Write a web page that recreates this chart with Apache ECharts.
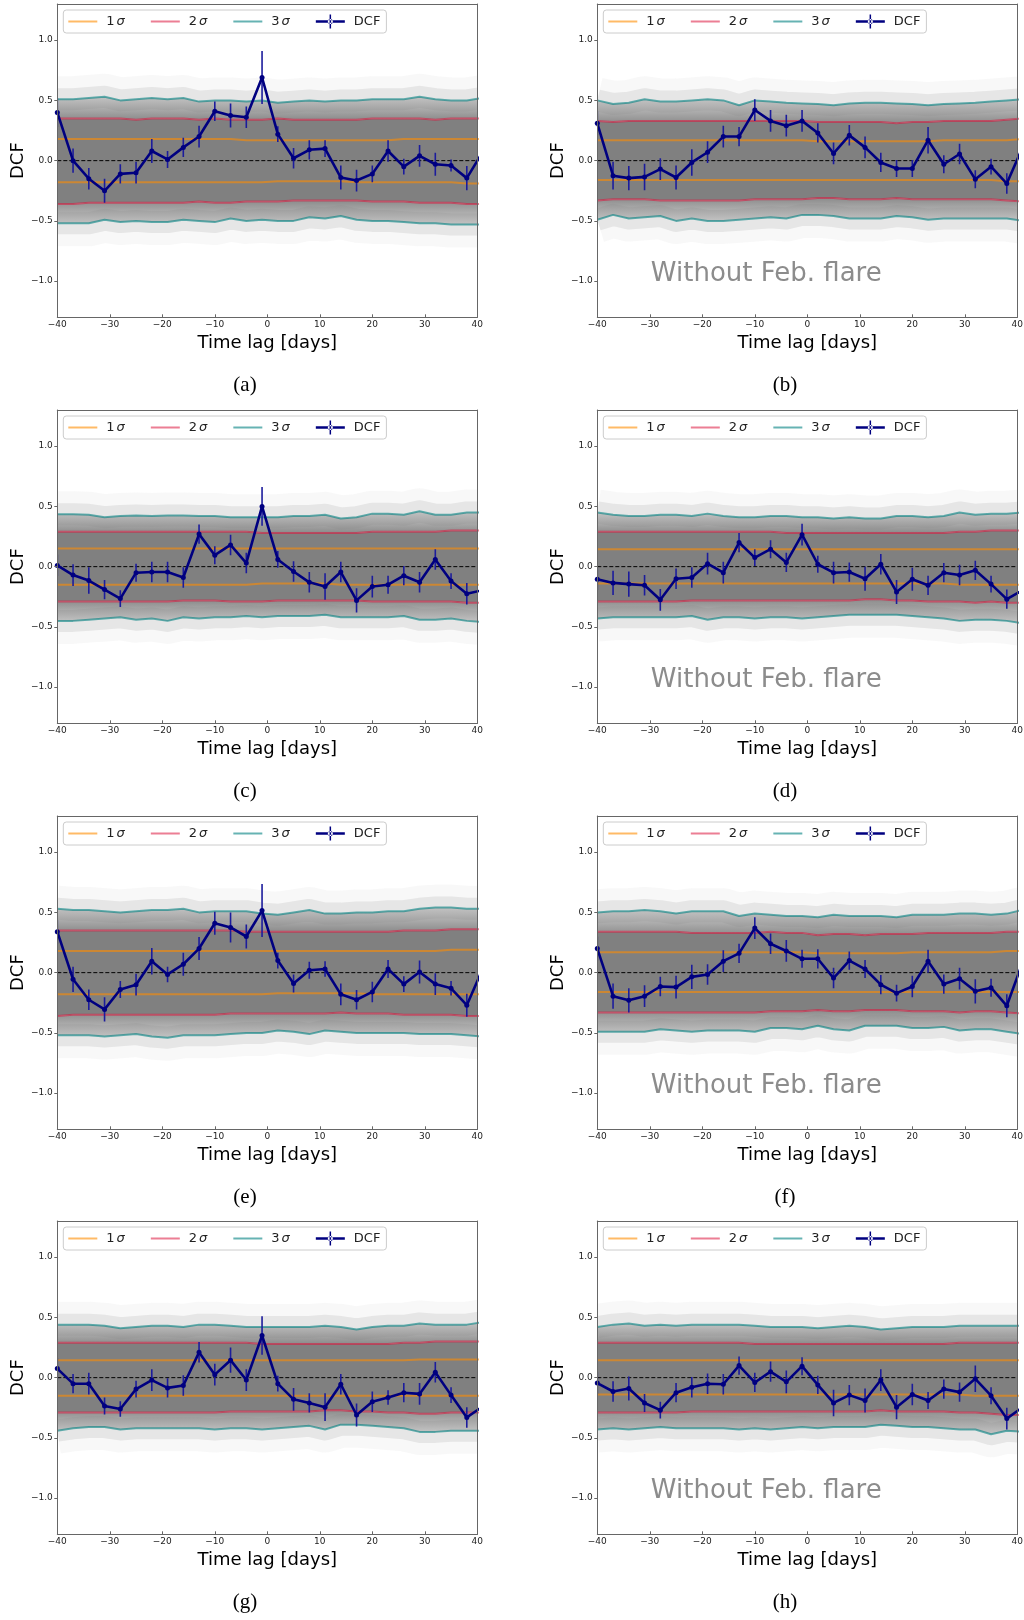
<!DOCTYPE html>
<html>
<head>
<meta charset="utf-8">
<title>DCF with simulated significance bands</title>
<script src="https://cdn.jsdelivr.net/npm/echarts@6/dist/echarts.min.js"></script>
<style>
  html, body { margin: 0; padding: 0; background: #ffffff; }
  #page { position: relative; width: 1024px; height: 1620px; overflow: hidden; }
  .panel { position: absolute; width: 484px; height: 403px; }
</style>
</head>
<body>
<div id="page"></div>
<script>
// Time lags (days) at which the DCF and the simulated percentiles are evaluated
const lags = [-40,-37,-34,-31,-28,-25,-22,-19,-16,-13,-10,-7,-4,-1,2,5,8,11,14,17,20,23,26,29,32,35,38,41];

// ---- (a) ----
const dcfA = [0.40,0.00,-0.15,-0.25,-0.11,-0.10,0.08,0.01,0.11,0.20,0.41,0.375,0.36,0.69,0.22,0.02,0.09,0.10,-0.14,-0.165,-0.11,0.08,-0.05,0.04,-0.03,-0.04,-0.145,0.07];
const errA = [0.12,0.10,0.09,0.10,0.08,0.09,0.10,0.07,0.08,0.09,0.08,0.10,0.09,0.22,0.065,0.085,0.08,0.07,0.10,0.09,0.07,0.09,0.065,0.09,0.095,0.05,0.10,0.09];
const up3A = [0.51,0.51,0.52,0.53,0.50,0.51,0.52,0.51,0.52,0.49,0.50,0.50,0.49,0.50,0.48,0.49,0.50,0.49,0.50,0.50,0.51,0.51,0.51,0.53,0.51,0.50,0.50,0.52];
const lo3A = [-0.52,-0.52,-0.52,-0.49,-0.51,-0.50,-0.51,-0.51,-0.49,-0.50,-0.51,-0.48,-0.50,-0.49,-0.50,-0.50,-0.47,-0.48,-0.46,-0.49,-0.50,-0.50,-0.51,-0.52,-0.52,-0.53,-0.53,-0.53];
const up2A = [0.35,0.35,0.35,0.35,0.35,0.34,0.35,0.35,0.35,0.34,0.35,0.34,0.34,0.34,0.35,0.34,0.34,0.34,0.34,0.34,0.35,0.35,0.35,0.35,0.34,0.35,0.35,0.35];
const lo2A = [-0.36,-0.36,-0.35,-0.35,-0.35,-0.35,-0.35,-0.35,-0.35,-0.34,-0.35,-0.35,-0.34,-0.34,-0.34,-0.33,-0.33,-0.33,-0.33,-0.33,-0.34,-0.34,-0.34,-0.35,-0.35,-0.35,-0.36,-0.36];
const up1A = [0.18,0.18,0.18,0.18,0.18,0.18,0.18,0.18,0.18,0.18,0.18,0.18,0.17,0.17,0.17,0.17,0.17,0.17,0.17,0.17,0.17,0.17,0.18,0.18,0.18,0.18,0.18,0.18];
const lo1A = [-0.18,-0.18,-0.18,-0.18,-0.18,-0.18,-0.18,-0.18,-0.18,-0.18,-0.18,-0.18,-0.18,-0.18,-0.17,-0.17,-0.17,-0.17,-0.17,-0.18,-0.18,-0.18,-0.18,-0.18,-0.18,-0.18,-0.19,-0.19];

// ---- (b) ----
const dcfB = [0.31,-0.125,-0.145,-0.135,-0.07,-0.14,-0.015,0.07,0.20,0.20,0.42,0.33,0.29,0.33,0.23,0.06,0.21,0.11,-0.015,-0.065,-0.065,0.17,-0.03,0.055,-0.155,-0.05,-0.19,0.11];
const errB = [0.10,0.115,0.10,0.11,0.09,0.10,0.11,0.09,0.09,0.08,0.09,0.09,0.09,0.09,0.08,0.09,0.085,0.09,0.08,0.07,0.07,0.11,0.075,0.085,0.075,0.065,0.085,0.09];
const up3B = [0.50,0.47,0.48,0.51,0.49,0.49,0.50,0.51,0.50,0.46,0.50,0.49,0.48,0.475,0.47,0.46,0.475,0.48,0.48,0.475,0.47,0.46,0.47,0.475,0.48,0.49,0.50,0.51];
const lo3B = [-0.49,-0.45,-0.48,-0.47,-0.46,-0.50,-0.48,-0.50,-0.50,-0.49,-0.48,-0.47,-0.48,-0.45,-0.45,-0.46,-0.48,-0.48,-0.48,-0.46,-0.47,-0.49,-0.48,-0.48,-0.48,-0.48,-0.48,-0.50];
const up2B = [0.33,0.32,0.33,0.33,0.33,0.33,0.33,0.33,0.33,0.33,0.33,0.33,0.33,0.33,0.32,0.32,0.32,0.32,0.32,0.31,0.32,0.32,0.33,0.33,0.33,0.33,0.34,0.35];
const lo2B = [-0.33,-0.32,-0.32,-0.32,-0.33,-0.33,-0.33,-0.33,-0.33,-0.33,-0.32,-0.32,-0.32,-0.32,-0.31,-0.31,-0.32,-0.32,-0.32,-0.31,-0.32,-0.32,-0.32,-0.32,-0.32,-0.32,-0.33,-0.34];
const up1B = [0.17,0.17,0.17,0.17,0.17,0.17,0.17,0.17,0.17,0.17,0.17,0.17,0.17,0.17,0.16,0.16,0.16,0.16,0.16,0.16,0.16,0.16,0.17,0.17,0.17,0.17,0.17,0.18];
const lo1B = [-0.16,-0.16,-0.16,-0.16,-0.16,-0.16,-0.16,-0.16,-0.16,-0.16,-0.16,-0.16,-0.16,-0.16,-0.16,-0.16,-0.16,-0.16,-0.16,-0.16,-0.16,-0.16,-0.16,-0.16,-0.16,-0.16,-0.17,-0.17];

// ---- (c) ----
const dcfC = [0.01,-0.07,-0.115,-0.19,-0.265,-0.05,-0.045,-0.045,-0.09,0.27,0.095,0.18,0.03,0.50,0.06,-0.04,-0.13,-0.165,-0.045,-0.28,-0.165,-0.15,-0.075,-0.13,0.06,-0.12,-0.225,-0.195];
const errC = [0.09,0.09,0.11,0.08,0.07,0.075,0.085,0.085,0.085,0.08,0.075,0.085,0.085,0.16,0.07,0.085,0.085,0.11,0.085,0.10,0.09,0.075,0.08,0.085,0.085,0.065,0.09,0.09];
const up3C = [0.435,0.435,0.43,0.41,0.42,0.425,0.42,0.425,0.425,0.42,0.42,0.41,0.41,0.41,0.41,0.42,0.42,0.43,0.40,0.41,0.44,0.44,0.43,0.46,0.43,0.43,0.45,0.45];
const lo3C = [-0.45,-0.45,-0.44,-0.43,-0.42,-0.44,-0.43,-0.45,-0.42,-0.43,-0.42,-0.42,-0.41,-0.42,-0.41,-0.41,-0.41,-0.40,-0.42,-0.42,-0.42,-0.42,-0.41,-0.44,-0.44,-0.43,-0.45,-0.46];
const up2C = [0.29,0.29,0.29,0.29,0.29,0.29,0.29,0.29,0.29,0.29,0.29,0.29,0.29,0.28,0.28,0.28,0.28,0.28,0.28,0.28,0.29,0.29,0.29,0.29,0.29,0.30,0.30,0.30];
const lo2C = [-0.29,-0.29,-0.29,-0.29,-0.29,-0.29,-0.29,-0.29,-0.28,-0.28,-0.28,-0.29,-0.29,-0.29,-0.28,-0.28,-0.28,-0.28,-0.28,-0.28,-0.29,-0.29,-0.29,-0.29,-0.29,-0.29,-0.30,-0.30];
const up1C = [0.15,0.15,0.15,0.15,0.15,0.15,0.15,0.15,0.15,0.15,0.15,0.15,0.15,0.15,0.15,0.15,0.15,0.15,0.15,0.15,0.15,0.15,0.15,0.15,0.15,0.15,0.15,0.15];
const lo1C = [-0.15,-0.15,-0.15,-0.15,-0.15,-0.15,-0.15,-0.15,-0.15,-0.15,-0.15,-0.15,-0.15,-0.14,-0.14,-0.14,-0.14,-0.14,-0.15,-0.15,-0.15,-0.15,-0.15,-0.15,-0.15,-0.15,-0.15,-0.15];

// ---- (d) ----
const dcfD = [-0.105,-0.135,-0.145,-0.155,-0.275,-0.10,-0.09,0.025,-0.05,0.20,0.075,0.145,0.035,0.265,0.02,-0.05,-0.045,-0.10,0.02,-0.21,-0.105,-0.155,-0.05,-0.07,-0.03,-0.145,-0.27,-0.195];
const errD = [0.09,0.10,0.105,0.085,0.09,0.085,0.085,0.09,0.09,0.08,0.07,0.075,0.08,0.09,0.07,0.09,0.08,0.10,0.085,0.10,0.095,0.08,0.08,0.085,0.08,0.07,0.08,0.09];
const up3D = [0.45,0.43,0.42,0.42,0.43,0.43,0.42,0.44,0.42,0.41,0.41,0.42,0.42,0.41,0.41,0.40,0.41,0.40,0.40,0.42,0.42,0.41,0.42,0.45,0.43,0.44,0.44,0.45];
const lo3D = [-0.43,-0.42,-0.42,-0.42,-0.42,-0.42,-0.41,-0.44,-0.42,-0.42,-0.43,-0.42,-0.42,-0.43,-0.42,-0.41,-0.40,-0.40,-0.40,-0.40,-0.41,-0.42,-0.43,-0.45,-0.44,-0.44,-0.45,-0.47];
const up2D = [0.29,0.29,0.29,0.29,0.29,0.29,0.29,0.29,0.29,0.29,0.29,0.29,0.28,0.28,0.28,0.28,0.28,0.28,0.28,0.28,0.28,0.28,0.28,0.29,0.29,0.30,0.30,0.30];
const lo2D = [-0.29,-0.29,-0.29,-0.29,-0.29,-0.29,-0.28,-0.28,-0.28,-0.28,-0.28,-0.28,-0.28,-0.28,-0.28,-0.28,-0.28,-0.27,-0.27,-0.28,-0.28,-0.29,-0.29,-0.29,-0.30,-0.29,-0.30,-0.30];
const up1D = [0.145,0.145,0.145,0.145,0.145,0.145,0.145,0.145,0.145,0.145,0.145,0.145,0.145,0.145,0.145,0.145,0.145,0.145,0.145,0.145,0.145,0.145,0.145,0.145,0.145,0.145,0.145,0.145];
const lo1D = [-0.14,-0.14,-0.14,-0.14,-0.14,-0.14,-0.14,-0.14,-0.14,-0.14,-0.14,-0.14,-0.14,-0.14,-0.14,-0.14,-0.14,-0.14,-0.14,-0.14,-0.14,-0.14,-0.14,-0.15,-0.15,-0.15,-0.15,-0.15];

// ---- (e) ----
const dcfE = [0.34,-0.055,-0.225,-0.305,-0.14,-0.10,0.095,-0.015,0.07,0.20,0.41,0.375,0.30,0.515,0.10,-0.09,0.02,0.03,-0.18,-0.225,-0.16,0.03,-0.095,0.005,-0.095,-0.13,-0.27,0.03];
const errE = [0.10,0.105,0.085,0.10,0.07,0.09,0.11,0.065,0.095,0.095,0.095,0.125,0.10,0.22,0.065,0.075,0.07,0.065,0.09,0.08,0.085,0.075,0.065,0.095,0.09,0.06,0.095,0.09];
const up3E = [0.53,0.52,0.52,0.51,0.50,0.51,0.52,0.52,0.53,0.50,0.51,0.51,0.51,0.49,0.48,0.50,0.52,0.49,0.49,0.50,0.50,0.51,0.51,0.53,0.54,0.54,0.53,0.53];
const lo3E = [-0.52,-0.52,-0.52,-0.53,-0.52,-0.51,-0.53,-0.54,-0.52,-0.52,-0.52,-0.51,-0.50,-0.50,-0.48,-0.49,-0.51,-0.48,-0.49,-0.50,-0.50,-0.50,-0.50,-0.51,-0.51,-0.51,-0.52,-0.53];
const up2E = [0.35,0.35,0.35,0.35,0.35,0.35,0.35,0.35,0.35,0.35,0.35,0.35,0.34,0.34,0.34,0.34,0.34,0.34,0.34,0.34,0.34,0.34,0.35,0.35,0.35,0.36,0.36,0.36];
const lo2E = [-0.36,-0.35,-0.35,-0.35,-0.35,-0.35,-0.35,-0.35,-0.35,-0.35,-0.35,-0.34,-0.34,-0.34,-0.34,-0.34,-0.34,-0.34,-0.33,-0.34,-0.34,-0.34,-0.35,-0.35,-0.35,-0.35,-0.36,-0.36];
const up1E = [0.18,0.18,0.18,0.18,0.18,0.18,0.18,0.18,0.18,0.18,0.18,0.18,0.18,0.18,0.18,0.18,0.18,0.18,0.18,0.18,0.18,0.18,0.18,0.18,0.18,0.19,0.19,0.19];
const lo1E = [-0.18,-0.18,-0.18,-0.18,-0.18,-0.18,-0.18,-0.18,-0.18,-0.18,-0.18,-0.18,-0.18,-0.18,-0.17,-0.17,-0.17,-0.17,-0.17,-0.17,-0.18,-0.18,-0.18,-0.18,-0.18,-0.18,-0.18,-0.18];

// ---- (f) ----
const dcfF = [0.20,-0.195,-0.23,-0.195,-0.115,-0.12,-0.035,-0.015,0.095,0.16,0.37,0.24,0.18,0.115,0.115,-0.045,0.10,0.03,-0.10,-0.17,-0.115,0.095,-0.095,-0.05,-0.155,-0.125,-0.275,0.085];
const errF = [0.10,0.105,0.10,0.09,0.08,0.095,0.10,0.085,0.09,0.08,0.09,0.085,0.09,0.075,0.08,0.085,0.075,0.075,0.08,0.07,0.09,0.095,0.08,0.09,0.10,0.075,0.095,0.09];
const up3F = [0.50,0.51,0.51,0.52,0.51,0.49,0.51,0.51,0.51,0.47,0.49,0.48,0.47,0.47,0.46,0.48,0.47,0.47,0.47,0.46,0.48,0.48,0.48,0.49,0.49,0.48,0.49,0.52];
const lo3F = [-0.49,-0.49,-0.49,-0.49,-0.47,-0.48,-0.49,-0.48,-0.48,-0.48,-0.49,-0.46,-0.46,-0.47,-0.44,-0.47,-0.48,-0.44,-0.44,-0.44,-0.46,-0.46,-0.45,-0.48,-0.47,-0.47,-0.49,-0.51];
const up2F = [0.34,0.34,0.34,0.34,0.34,0.34,0.33,0.33,0.33,0.33,0.33,0.34,0.33,0.33,0.31,0.32,0.32,0.31,0.32,0.32,0.32,0.33,0.33,0.33,0.33,0.33,0.34,0.34];
const lo2F = [-0.33,-0.33,-0.33,-0.33,-0.33,-0.33,-0.33,-0.33,-0.33,-0.33,-0.33,-0.32,-0.32,-0.32,-0.31,-0.32,-0.32,-0.31,-0.31,-0.31,-0.32,-0.32,-0.32,-0.33,-0.32,-0.32,-0.33,-0.34];
const up1F = [0.17,0.17,0.17,0.17,0.17,0.17,0.17,0.17,0.17,0.17,0.17,0.17,0.17,0.17,0.16,0.16,0.16,0.16,0.16,0.16,0.17,0.17,0.17,0.17,0.17,0.17,0.18,0.18];
const lo1F = [-0.16,-0.16,-0.16,-0.16,-0.16,-0.16,-0.16,-0.16,-0.16,-0.16,-0.16,-0.16,-0.16,-0.16,-0.16,-0.16,-0.16,-0.16,-0.16,-0.16,-0.16,-0.16,-0.16,-0.16,-0.16,-0.16,-0.16,-0.16];

// ---- (g) ----
const dcfG = [0.075,-0.05,-0.05,-0.235,-0.26,-0.095,-0.02,-0.085,-0.065,0.21,0.025,0.145,-0.02,0.35,-0.05,-0.18,-0.21,-0.245,-0.055,-0.31,-0.20,-0.165,-0.125,-0.135,0.045,-0.145,-0.33,-0.24];
const errG = [0.09,0.08,0.09,0.07,0.065,0.07,0.09,0.08,0.085,0.085,0.09,0.105,0.09,0.16,0.065,0.095,0.08,0.115,0.085,0.095,0.085,0.06,0.08,0.09,0.085,0.065,0.085,0.09];
const up3G = [0.44,0.44,0.44,0.43,0.41,0.42,0.43,0.43,0.42,0.44,0.44,0.43,0.42,0.42,0.42,0.42,0.42,0.43,0.42,0.40,0.42,0.43,0.43,0.45,0.44,0.44,0.44,0.46];
const lo3G = [-0.44,-0.42,-0.41,-0.41,-0.43,-0.42,-0.42,-0.42,-0.42,-0.42,-0.43,-0.42,-0.42,-0.43,-0.42,-0.41,-0.40,-0.43,-0.39,-0.39,-0.40,-0.41,-0.42,-0.45,-0.45,-0.44,-0.44,-0.44];
const up2G = [0.29,0.29,0.29,0.29,0.29,0.29,0.29,0.29,0.29,0.29,0.29,0.29,0.29,0.28,0.28,0.28,0.28,0.28,0.28,0.28,0.28,0.28,0.29,0.29,0.30,0.30,0.30,0.30];
const lo2G = [-0.29,-0.29,-0.29,-0.29,-0.29,-0.29,-0.29,-0.29,-0.29,-0.29,-0.29,-0.28,-0.28,-0.28,-0.28,-0.28,-0.28,-0.27,-0.27,-0.28,-0.28,-0.29,-0.29,-0.30,-0.30,-0.29,-0.29,-0.29];
const up1G = [0.145,0.145,0.145,0.145,0.145,0.145,0.145,0.145,0.145,0.145,0.145,0.145,0.145,0.145,0.145,0.145,0.145,0.145,0.145,0.145,0.145,0.145,0.145,0.15,0.15,0.15,0.15,0.15];
const lo1G = [-0.15,-0.15,-0.15,-0.15,-0.15,-0.15,-0.15,-0.15,-0.15,-0.15,-0.15,-0.15,-0.15,-0.15,-0.15,-0.15,-0.15,-0.15,-0.15,-0.15,-0.15,-0.15,-0.15,-0.15,-0.15,-0.15,-0.15,-0.15];

// ---- (h) ----
const dcfH = [-0.045,-0.115,-0.09,-0.21,-0.27,-0.125,-0.08,-0.05,-0.055,0.10,-0.04,0.05,-0.035,0.095,-0.06,-0.21,-0.145,-0.19,-0.02,-0.245,-0.14,-0.19,-0.095,-0.12,-0.01,-0.15,-0.34,-0.245];
const errH = [0.09,0.085,0.10,0.075,0.07,0.08,0.085,0.085,0.085,0.075,0.08,0.085,0.095,0.075,0.075,0.11,0.085,0.10,0.09,0.10,0.09,0.07,0.08,0.08,0.11,0.07,0.09,0.09];
const up3H = [0.42,0.44,0.45,0.43,0.44,0.43,0.44,0.44,0.44,0.44,0.43,0.42,0.42,0.42,0.41,0.42,0.43,0.42,0.40,0.41,0.42,0.42,0.42,0.43,0.43,0.43,0.43,0.43];
const lo3H = [-0.43,-0.42,-0.43,-0.42,-0.41,-0.42,-0.42,-0.42,-0.42,-0.43,-0.42,-0.43,-0.42,-0.41,-0.42,-0.41,-0.41,-0.41,-0.39,-0.40,-0.41,-0.41,-0.42,-0.43,-0.43,-0.47,-0.44,-0.45];
const up2H = [0.29,0.29,0.29,0.29,0.29,0.29,0.29,0.29,0.29,0.29,0.28,0.28,0.28,0.28,0.28,0.28,0.28,0.28,0.28,0.28,0.28,0.28,0.28,0.29,0.29,0.29,0.29,0.29];
const lo2H = [-0.29,-0.29,-0.29,-0.29,-0.29,-0.29,-0.28,-0.28,-0.28,-0.28,-0.28,-0.28,-0.28,-0.28,-0.28,-0.28,-0.28,-0.28,-0.27,-0.28,-0.28,-0.28,-0.28,-0.29,-0.29,-0.30,-0.31,-0.31];
const up1H = [0.145,0.145,0.145,0.145,0.145,0.145,0.145,0.145,0.145,0.145,0.145,0.145,0.145,0.145,0.145,0.145,0.145,0.145,0.145,0.145,0.145,0.145,0.145,0.145,0.145,0.145,0.145,0.145];
const lo1H = [-0.14,-0.14,-0.14,-0.14,-0.14,-0.14,-0.14,-0.14,-0.14,-0.14,-0.14,-0.14,-0.14,-0.14,-0.14,-0.14,-0.14,-0.14,-0.14,-0.14,-0.14,-0.14,-0.14,-0.14,-0.15,-0.15,-0.15,-0.15];

// Axis tick values
const xTicksInterval = 10;
const yTickValues = [-1.0, -0.5, 0.0, 0.5, 1.0];

// Panel list: caption, optional note, grid cell
const panels = [
  { tag: '(a)', note: false, col: 0, row: 0, dcf: dcfA, err: errA, up1: up1A, lo1: lo1A, up2: up2A, lo2: lo2A, up3: up3A, lo3: lo3A },
  { tag: '(b)', note: true,  col: 1, row: 0, dcf: dcfB, err: errB, up1: up1B, lo1: lo1B, up2: up2B, lo2: lo2B, up3: up3B, lo3: lo3B },
  { tag: '(c)', note: false, col: 0, row: 1, dcf: dcfC, err: errC, up1: up1C, lo1: lo1C, up2: up2C, lo2: lo2C, up3: up3C, lo3: lo3C },
  { tag: '(d)', note: true,  col: 1, row: 1, dcf: dcfD, err: errD, up1: up1D, lo1: lo1D, up2: up2D, lo2: lo2D, up3: up3D, lo3: lo3D },
  { tag: '(e)', note: false, col: 0, row: 2, dcf: dcfE, err: errE, up1: up1E, lo1: lo1E, up2: up2E, lo2: lo2E, up3: up3E, lo3: lo3E },
  { tag: '(f)', note: true,  col: 1, row: 2, dcf: dcfF, err: errF, up1: up1F, lo1: lo1F, up2: up2F, lo2: lo2F, up3: up3F, lo3: lo3F },
  { tag: '(g)', note: false, col: 0, row: 3, dcf: dcfG, err: errG, up1: up1G, lo1: lo1G, up2: up2G, lo2: lo2G, up3: up3G, lo3: lo3G },
  { tag: '(h)', note: true,  col: 1, row: 3, dcf: dcfH, err: errH, up1: up1H, lo1: lo1H, up2: up2H, lo2: lo2H, up3: up3H, lo3: lo3H }
];

// Layout of the 2 x 4 figure
const COL_X = [0, 540];
const ROW_Y = [0, 406, 811.7, 1217];
const GRID = { left: 57.3, top: 4, width: 420, height: 313.3 };

const FONT = 'DejaVu Sans';
const FRAME = '#666666';
const C1 = 'rgba(255,140,0,0.6)';
const C2 = 'rgba(220,20,60,0.55)';
const C3 = 'rgba(0,128,128,0.6)';
const NAVY = '#000080';
const ERRC = '#1c1c9c';
const LINE_ICON = 'path://M0,6h29v2h-29z';
const DCF_ICON = 'path://M0,5.75h29v2.5h-29z M13.75,0h1.5v14h-1.5z M12,7a2.5,2.5 0 1,0 5,0a2.5,2.5 0 1,0 -5,0z';

const minus = s => String(s).replace('-', '\u2212');
const pairs = ys => lags.map((x, i) => [x, ys[i]]);

function gradient(topAlpha, bottomAlpha) {
  return {
    type: 'linear', x: 0, y: 0, x2: 0, y2: 1, global: false,
    colorStops: [
      { offset: 0, color: 'rgba(128,128,128,' + topAlpha + ')' },
      { offset: 1, color: 'rgba(128,128,128,' + bottomAlpha + ')' }
    ]
  };
}

// Filled region between two percentile curves, drawn as one polygon in data space
function bandSeries(name, lower, upper, fill) {
  return {
    name: name, type: 'custom', clip: true, silent: true, z: 1, animation: false,
    data: lags.map((x, i) => [x, lower[i], upper[i]]),
    encode: { x: 0, y: [1, 2] },
    renderItem: function (params, api) {
      if (params.dataIndex !== 0) return null;
      const pts = [];
      for (let i = 0; i < lags.length; i++) pts.push(api.coord([lags[i], lower[i]]));
      for (let i = lags.length - 1; i >= 0; i--) pts.push(api.coord([lags[i], upper[i]]));
      return { type: 'polygon', shape: { points: pts }, style: { fill: fill, stroke: null } };
    }
  };
}

// Soft spread of the simulated curves around a percentile curve (wide translucent stroke)
function hazeSeries(ys, width, alpha) {
  return {
    name: 'haze', type: 'custom', clip: true, silent: true, z: 1, animation: false,
    data: pairs(ys),
    encode: { x: 0, y: 1 },
    renderItem: function (params, api) {
      if (params.dataIndex !== 0) return null;
      const pts = lags.map((x, i) => api.coord([x, ys[i]]));
      return {
        type: 'polyline', shape: { points: pts },
        style: { stroke: 'rgba(128,128,128,' + alpha + ')', lineWidth: width, lineJoin: 'round', fill: null }
      };
    }
  };
}

function sigmaSeries(name, ys, color) {
  return {
    name: name, type: 'line', data: pairs(ys), symbol: 'none', silent: true, z: 2,
    lineStyle: { color: color, width: 2 }, itemStyle: { color: color },
    emphasis: { disabled: true }, animation: false
  };
}

function buildOption(p) {
  const series = [
    // density of simulated curves: outer haze, 2-3 sigma shoulders, dense core
    hazeSeries(p.up3, 46, 0.06), hazeSeries(p.lo3, 46, 0.06),
    hazeSeries(p.up3, 22, 0.15), hazeSeries(p.lo3, 22, 0.15),
    bandSeries('env-lower', p.lo3, p.lo2, gradient(0.9, 0.35)),
    bandSeries('env-core', p.lo2, p.up2, '#808080'),
    bandSeries('env-upper', p.up2, p.up3, gradient(0.35, 0.9)),
    sigmaSeries('1σ', p.up1, C1), sigmaSeries('1σ', p.lo1, C1),
    sigmaSeries('2σ', p.up2, C2), sigmaSeries('2σ', p.lo2, C2),
    sigmaSeries('3σ', p.up3, C3), sigmaSeries('3σ', p.lo3, C3),
    {
      name: 'zero', type: 'line', data: [[-40, 0], [40, 0]], symbol: 'none', silent: true, z: 3,
      lineStyle: { color: '#000000', width: 1, type: [4, 2] }, animation: false
    },
    {
      name: 'DCF-err', type: 'custom', clip: true, z: 4, silent: true, animation: false,
      data: lags.map((x, i) => [x, p.dcf[i], p.err[i]]),
      encode: { x: 0, y: 1 },
      renderItem: function (params, api) {
        const x = api.value(0), y = api.value(1), e = api.value(2);
        const a = api.coord([x, y + e]);
        const b = api.coord([x, y - e]);
        return {
          type: 'line',
          shape: { x1: a[0], y1: a[1], x2: b[0], y2: b[1] },
          style: { stroke: ERRC, lineWidth: 1.6 }
        };
      }
    },
    {
      name: 'DCF', type: 'line', data: pairs(p.dcf), z: 5, clip: true,
      symbol: 'circle', symbolSize: 5, showSymbol: true,
      lineStyle: { color: NAVY, width: 2.6 }, itemStyle: { color: NAVY },
      emphasis: { disabled: true }, animation: false
    }
  ];

  const graphic = [{
    type: 'text', x: 245, y: GRID.top + 381, z: 100,
    style: { text: p.tag, font: '21px "Liberation Serif", "Times New Roman", serif', fill: '#000', textAlign: 'center', textVerticalAlign: 'middle' }
  }];
  if (p.note) {
    graphic.push({
      type: 'text', x: GRID.left + 169, y: GRID.top + 270, z: 100,
      style: { text: 'Without Feb. flare', font: '26px "' + FONT + '"', fill: '#8c8c8c', textAlign: 'center', textVerticalAlign: 'middle' }
    });
  }

  const axisLine = { show: true, onZero: false, lineStyle: { color: FRAME, width: 1 } };
  const labelStyle = { fontFamily: FONT, fontSize: 9, color: '#222' };

  return {
    animation: false,
    backgroundColor: '#ffffff',
    grid: { left: GRID.left, top: GRID.top, width: GRID.width, height: GRID.height, outerBoundsMode: 'none', containLabel: false },
    xAxis: [
      {
        type: 'value', min: -40, max: 40, interval: xTicksInterval, position: 'bottom', z: 6,
        axisLine: axisLine,
        axisTick: { show: true, inside: true, length: 3, lineStyle: { color: FRAME } },
        axisLabel: Object.assign({ margin: 3, showMinLabel: true, showMaxLabel: true, formatter: v => minus(v) }, labelStyle),
        splitLine: { show: false },
        name: 'Time lag [days]', nameLocation: 'middle', nameGap: 15,
        nameTextStyle: { fontFamily: FONT, fontSize: 18, color: '#000' }
      },
      {
        type: 'value', min: -40, max: 40, position: 'top', z: 6,
        axisLine: axisLine, axisTick: { show: false }, axisLabel: { show: false }, splitLine: { show: false }
      }
    ],
    yAxis: [
      {
        type: 'value', min: -1.3, max: 1.3, position: 'left', z: 6,
        axisLine: axisLine,
        axisTick: { show: true, inside: false, length: 3, customValues: yTickValues, lineStyle: { color: FRAME } },
        axisLabel: Object.assign({ margin: 4.5, customValues: yTickValues, formatter: v => minus(Number(v).toFixed(1)) }, labelStyle),
        splitLine: { show: false },
        name: 'DCF', nameLocation: 'middle', nameGap: 30, nameRotate: 90, nameMoveOverlap: false,
        nameTextStyle: { fontFamily: FONT, fontSize: 18, color: '#000' }
      },
      {
        type: 'value', min: -1.3, max: 1.3, position: 'right', z: 6,
        axisLine: axisLine, axisTick: { show: false }, axisLabel: { show: false }, splitLine: { show: false }
      }
    ],
    legend: {
      show: true, z: 10, selectedMode: false, orient: 'horizontal',
      left: GRID.left + 6, top: GRID.top + 6,
      itemWidth: 29, itemHeight: 14, itemGap: 26,
      padding: [4.5, 6, 4.5, 5],
      backgroundColor: 'rgba(255,255,255,0.85)', borderColor: '#cccccc', borderWidth: 1, borderRadius: 3,
      data: [
        { name: '1σ', icon: LINE_ICON }, { name: '2σ', icon: LINE_ICON },
        { name: '3σ', icon: LINE_ICON }, { name: 'DCF', icon: DCF_ICON }
      ],
      formatter: function (name) {
        if (name === 'DCF') return '{g|}{t|DCF}';
        return '{g|}{t|' + name.charAt(0) + '}{s|σ}';
      },
      textStyle: {
        fontFamily: FONT, fontSize: 13, color: '#222',
        rich: {
          g: { width: 4 },
          t: { fontFamily: FONT, fontSize: 13, color: '#222', lineHeight: 14 },
          s: { fontFamily: FONT, fontSize: 13, fontStyle: 'italic', color: '#222', lineHeight: 14, padding: [0, 0, 0, 2] }
        }
      }
    },
    graphic: graphic,
    series: series
  };
}

const page = document.getElementById('page');
panels.forEach(function (p) {
  const div = document.createElement('div');
  div.className = 'panel';
  div.style.left = COL_X[p.col] + 'px';
  div.style.top = ROW_Y[p.row] + 'px';
  page.appendChild(div);
  const chart = echarts.init(div, null, { renderer: 'canvas' });
  chart.setOption(buildOption(p));
});
</script>
</body>
</html>
